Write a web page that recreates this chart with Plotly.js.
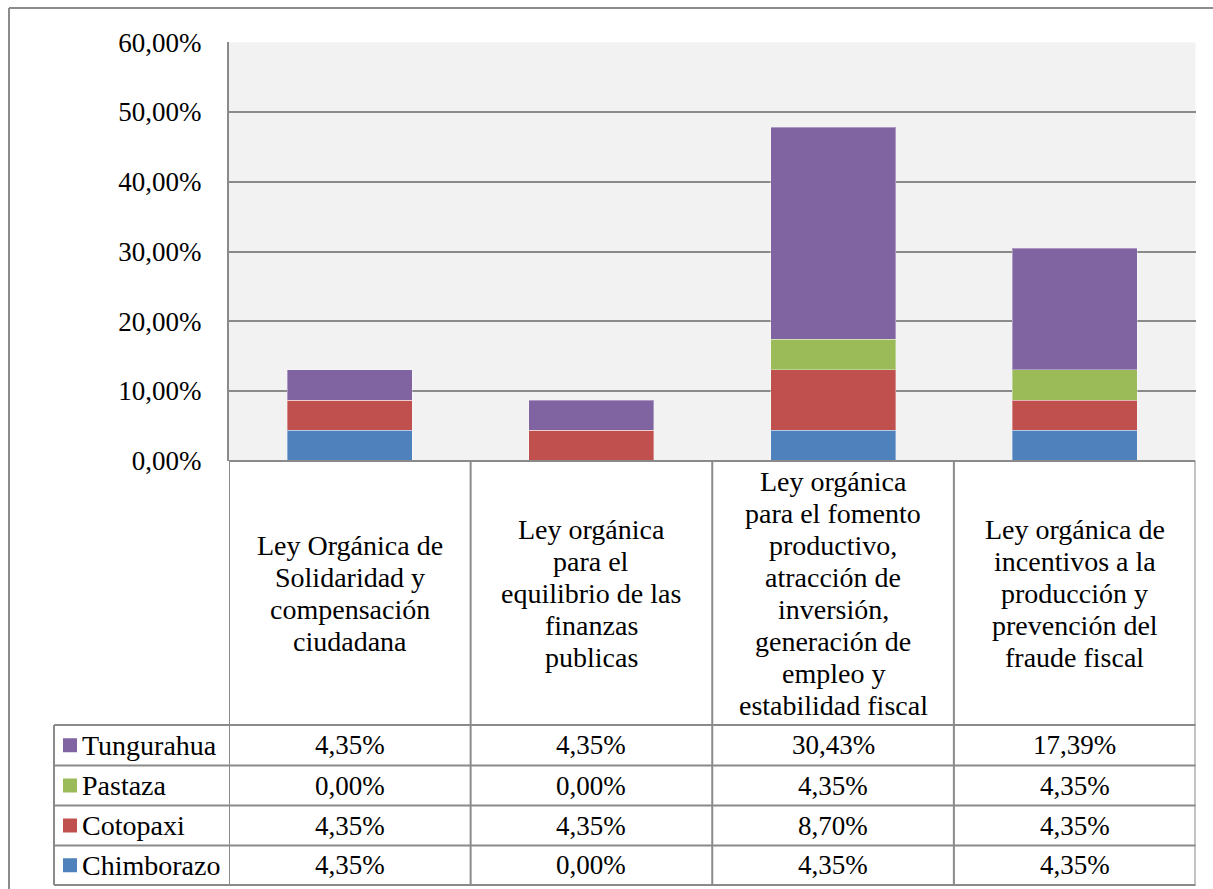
<!DOCTYPE html>
<html><head><meta charset="utf-8">
<script src="https://cdn.plot.ly/plotly-3.0.1.min.js"></script>
<style>html,body{margin:0;padding:0;background:#fff}</style>
</head><body><div id="chart" style="width:1213px;height:889px"></div>
<script>
const categories = [
  "Ley Orgánica de<br>Solidaridad y<br>compensación<br>ciudadana",
  "Ley orgánica<br>para el<br>equilibrio de las<br>finanzas<br>publicas",
  "Ley orgánica<br>para el fomento<br>productivo,<br>atracción de<br>inversión,<br>generación de<br>empleo y<br>estabilidad fiscal",
  "Ley orgánica de<br>incentivos a la<br>producción y<br>prevención del<br>fraude fiscal"
];
const seriesNames = ["Chimborazo", "Cotopaxi", "Pastaza", "Tungurahua"];
const chimborazo = [4.35, 0.00, 4.35, 4.35];
const cotopaxi   = [4.35, 4.35, 8.70, 4.35];
const pastaza    = [0.00, 0.00, 4.35, 4.35];
const tungurahua = [4.35, 4.35, 30.43, 17.39];
const seriesColors = ["#4F81BD", "#C0504D", "#9BBB59", "#8064A2"];
const yTickVals = [0, 10, 20, 30, 40, 50, 60];

const W = 1213, H = 889;
const px = v => v / W;
const py = v => 1 - v / H;
const FONT = "Liberation Serif";
const GRID = "#8a8a8a";
const seriesValues = [chimborazo, cotopaxi, pastaza, tungurahua];
const xIdx = categories.map((c, i) => i);

const traces = seriesNames.map((name, s) => ({
  type: "bar",
  name: name,
  x: xIdx,
  y: seriesValues[s],
  marker: { color: seriesColors[s], line: { color: "rgba(255,255,255,0.35)", width: 1 } },
  hoverinfo: "name+y"
}));

const fmt = v => v.toFixed(2).replace(".", ",") + "%";

const shapes = [];
const annotations = [];
const lineStyle = { color: GRID, width: 2 };

// outer chart border (top and left)
shapes.push({ type: "line", xref: "paper", yref: "paper", x0: px(9), x1: px(1213), y0: py(8), y1: py(8), line: { color: "#8c8c8c", width: 2 } });
shapes.push({ type: "line", xref: "paper", yref: "paper", x0: px(9), x1: px(9), y0: py(8), y1: py(889), line: { color: "#8c8c8c", width: 2 } });

// data table: vertical lines at category boundaries
for (let i = 0; i <= categories.length; i++) {
  shapes.push({ type: "line", xref: "x", yref: "paper", x0: i - 0.5, x1: i - 0.5, y0: py(461), y1: py(885), line: lineStyle, layer: "above" });
}
// top line of table
shapes.push({ type: "line", xref: "x", yref: "paper", x0: -0.5, x1: categories.length - 0.5, y0: py(461), y1: py(461), line: lineStyle, layer: "above" });
// row lines
const rowTops = [725, 765.5, 805.5, 845.5, 885];
rowTops.forEach(yv => {
  shapes.push({ type: "line", xref: "paper", yref: "paper", x0: px(54), x1: px(1195.5), y0: py(yv), y1: py(yv), line: lineStyle, layer: "above" });
});
// left border of legend column
shapes.push({ type: "line", xref: "paper", yref: "paper", x0: px(54), x1: px(54), y0: py(725), y1: py(885), line: lineStyle, layer: "above" });

// category labels (one annotation per wrapped line)
const catCenter = (461 + 725) / 2;
const lineGap = 32;
categories.forEach((c, i) => {
  const lines = c.split("<br>");
  lines.forEach((ln, k) => {
    const yc = catCenter + (k - (lines.length - 1) / 2) * lineGap;
    annotations.push({ x: i, xref: "x", y: py(yc), yref: "paper", text: ln, showarrow: false,
      xanchor: "center", yanchor: "middle", font: { family: FONT, size: 28, color: "#000" } });
  });
});

// table rows (top row = last series)
const order = [3, 2, 1, 0];
order.forEach((s, r) => {
  const yc = (rowTops[r] + rowTops[r + 1]) / 2;
  // legend key
  shapes.push({ type: "rect", xref: "paper", yref: "paper", x0: px(63), x1: px(77), y0: py(yc - 7), y1: py(yc + 7),
    fillcolor: seriesColors[s], line: { width: 0 }, layer: "above" });
  annotations.push({ x: px(80), xref: "paper", y: py(yc), yref: "paper", text: seriesNames[s], showarrow: false,
    xanchor: "left", yanchor: "middle", font: { family: FONT, size: 28, color: "#000" } });
  seriesValues[s].forEach((v, i) => {
    annotations.push({ x: i, xref: "x", y: py(yc), yref: "paper", text: fmt(v), showarrow: false,
      xanchor: "center", yanchor: "middle", font: { family: FONT, size: 27, color: "#000" } });
  });
});

const layout = {
  width: W, height: H,
  margin: { l: 0, r: 0, t: 0, b: 0 },
  paper_bgcolor: "#ffffff",
  plot_bgcolor: "#F2F2F2",
  barmode: "stack",
  bargap: 0.483,
  showlegend: false,
  xaxis: {
    domain: [px(229), px(1195.5)],
    range: [-0.5, categories.length - 0.5],
    showticklabels: false, showgrid: false, zeroline: false, showline: false, ticks: "",
    fixedrange: true
  },
  yaxis: {
    domain: [py(460.7), py(42.3)],
    range: [0, 60],
    tickmode: "array",
    tickvals: yTickVals,
    ticktext: yTickVals.map(fmt),
    tickfont: { family: FONT, size: 27, color: "#000" },
    showgrid: true, gridcolor: GRID, gridwidth: 2,
    zeroline: false,
    showline: true, linecolor: GRID, linewidth: 2,
    ticks: "", ticklabelstandoff: 20,
    fixedrange: true
  },
  shapes: shapes,
  annotations: annotations
};

Plotly.newPlot("chart", traces, layout, { displayModeBar: false, staticPlot: true });
</script>
</body></html>
